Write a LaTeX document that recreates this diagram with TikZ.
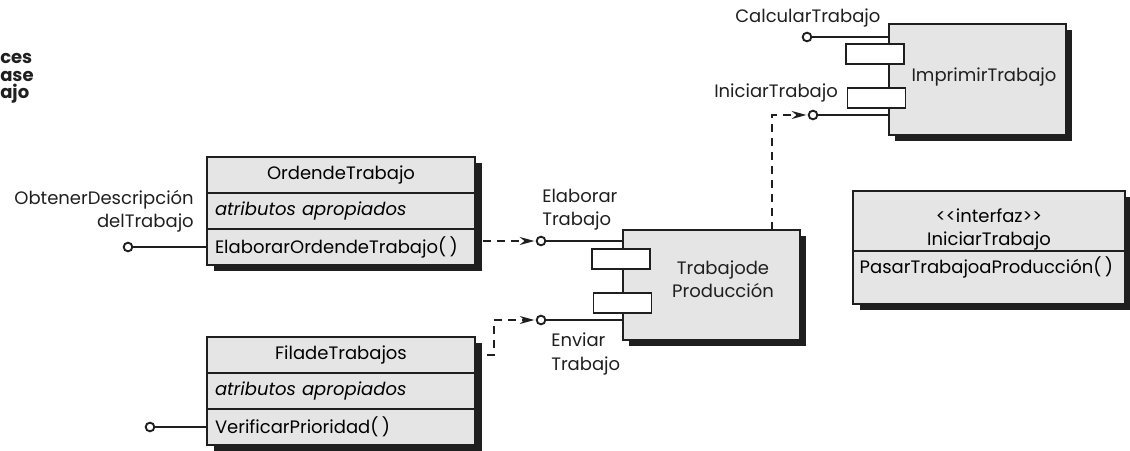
\documentclass[tikz,border=0pt]{standalone}
\usepackage{fontspec}
\setmainfont{Poppins}
\usepackage{tikz}
\usetikzlibrary{arrows.meta, positioning, shadows}
\colorlet{UMLgray}{black!10}
\colorlet{UMLink}{black!88}
\tikzset{
  umlrow/.style={draw=UMLink, line width=1.7pt, fill=UMLgray, outer sep=0pt,
    minimum width=201pt, minimum height=27pt, inner xsep=6pt,
    text width=189pt, align=left,
    drop shadow={shadow xshift=5pt, shadow yshift=-4.5pt, opacity=1, fill=UMLink}},
  component/.style={draw=UMLink, line width=1.7pt, fill=UMLgray, outer sep=0pt,
    drop shadow={shadow xshift=4.5pt, shadow yshift=-4.5pt, opacity=1, fill=UMLink}},
  port/.style={draw=UMLink, line width=1.4pt, fill=white, inner sep=0pt, outer sep=0pt,
    minimum width=43.5pt, minimum height=15pt},
  lolly/.style={circle, draw=UMLink, line width=1.4pt, fill=white, inner sep=0pt,
    minimum size=6.5pt},
  wire/.style={draw=UMLink, line width=1.4pt},
  depend/.style={draw=UMLink, line width=1.4pt, dash pattern=on 6pt off 4.5pt,
    -{Stealth[length=11pt, width=6pt]}, shorten >=1pt},
  lbl/.style={inner sep=0pt, text=UMLink}
}
\begin{document}
\begin{tikzpicture}[x=0.75pt, y=-0.75pt,
    every node/.append style={font=\fontsize{13.5}{17.5}\selectfont}]
  \useasboundingbox (0,0) rectangle (1130,450);

  \node[lbl, anchor=west, font=\fontsize{13.5}{14}\selectfont\bfseries] (capA) at (0,58) {ces};
  \node[lbl, anchor=west, font=\fontsize{13.5}{14}\selectfont\bfseries] (capB) at (0,76) {ase};
  \node[lbl, anchor=west, font=\fontsize{13.5}{14}\selectfont\bfseries] (capC) at (0,94) {ajo};

  % clases
  \node[umlrow, align=center] (ordenName) at (341,175) {OrdendeTrabajo};
  \node[umlrow, below=0pt of ordenName] (ordenAttr) {\itshape atributos apropiados};
  \node[umlrow, below=0pt of ordenAttr] (ordenOp) {ElaborarOrdendeTrabajo(\kern2.5pt)};

  \node[umlrow, align=center] (filaName) at (341,355) {FiladeTrabajos};
  \node[umlrow, below=0pt of filaName] (filaAttr) {\itshape atributos apropiados};
  \node[umlrow, below=0pt of filaAttr] (filaOp) {VerificarPrioridad(\kern2.5pt)};

  \node[umlrow, minimum width=204pt, text width=198pt, inner xsep=3pt, minimum height=45pt,
    text height=13pt, text depth=11pt, align=center] (ifaceName) at (989,221)
    {<\kern0pt<interfaz>\kern0pt>\\IniciarTrabajo};
  \node[umlrow, minimum width=204pt, text width=198pt, inner xsep=3pt, inner ysep=3pt,
    minimum height=39.75pt, text height=13.5pt, text depth=20.25pt,
    below=0pt of ifaceName] (ifaceOp) {\hspace{2pt}PasarTrabajoaProducción(\kern2.5pt)};

  % componentes
  \node[component, minimum width=132.75pt, minimum height=82.5pt] (prod) at (711.5,285) {};
  \node[lbl, align=center] (prodLabel) at (723,279) {Trabajode\\Producción};
  \node[port] (prodPortA) at (621,259) {};
  \node[port] (prodPortB) at (622.5,303) {};

  \node[component, minimum width=132.75pt, minimum height=83.25pt] (print) at (977.5,79.5) {};
  \node[lbl] (printLabel) at (984,77) {ImprimirTrabajo};
  \node[port] (printPortA) at (875,54) {};
  \node[port] (printPortB) at (876.5,98) {};

  % interfaces
  \node[lolly] (lolObtener) at (128,247) {};
  \node[lolly] (lolVerificar) at (150,427) {};
  \node[lolly] (lolElaborar) at (541,241) {};
  \node[lolly] (lolEnviar) at (541,320) {};
  \node[lolly] (lolCalcular) at (807,37) {};
  \node[lolly] (lolIniciar) at (813,115) {};

  \node[lbl, anchor=east, align=right] (txtObtener) at (194,211) {ObtenerDescripción\\delTrabajo};
  \node[lbl, anchor=west, align=left] (txtElaborar) at (542,210) {Elaborar\\Trabajo};
  \node[lbl, anchor=west, align=left] (txtEnviar) at (551,354) {Enviar\\Trabajo};
  \node[lbl, anchor=west] (txtCalcular) at (735,18) {CalcularTrabajo};
  \node[lbl, anchor=west] (txtIniciar) at (714,93) {IniciarTrabajo};

  \draw[wire] (lolObtener) -- (ordenOp.west);
  \draw[wire] (lolVerificar) -- (filaOp.west);
  \draw[wire] (lolElaborar) -- (lolElaborar -| prod.west);
  \draw[wire] (lolEnviar) -- (lolEnviar -| prod.west);
  \draw[wire] (lolCalcular) -- (lolCalcular -| print.west);
  \draw[wire] (lolIniciar) -- (lolIniciar -| print.west);

  \draw[depend] ([xshift=6pt]ordenOp.east |- lolElaborar) -- (lolElaborar);
  \draw[depend] ([xshift=9pt]filaName.east) -| ([xshift=14pt]filaName.east |- lolEnviar) -- (lolEnviar);
  \draw[depend] ([xshift=112pt]prod.north west) |- (lolIniciar);
\end{tikzpicture}
\end{document}
